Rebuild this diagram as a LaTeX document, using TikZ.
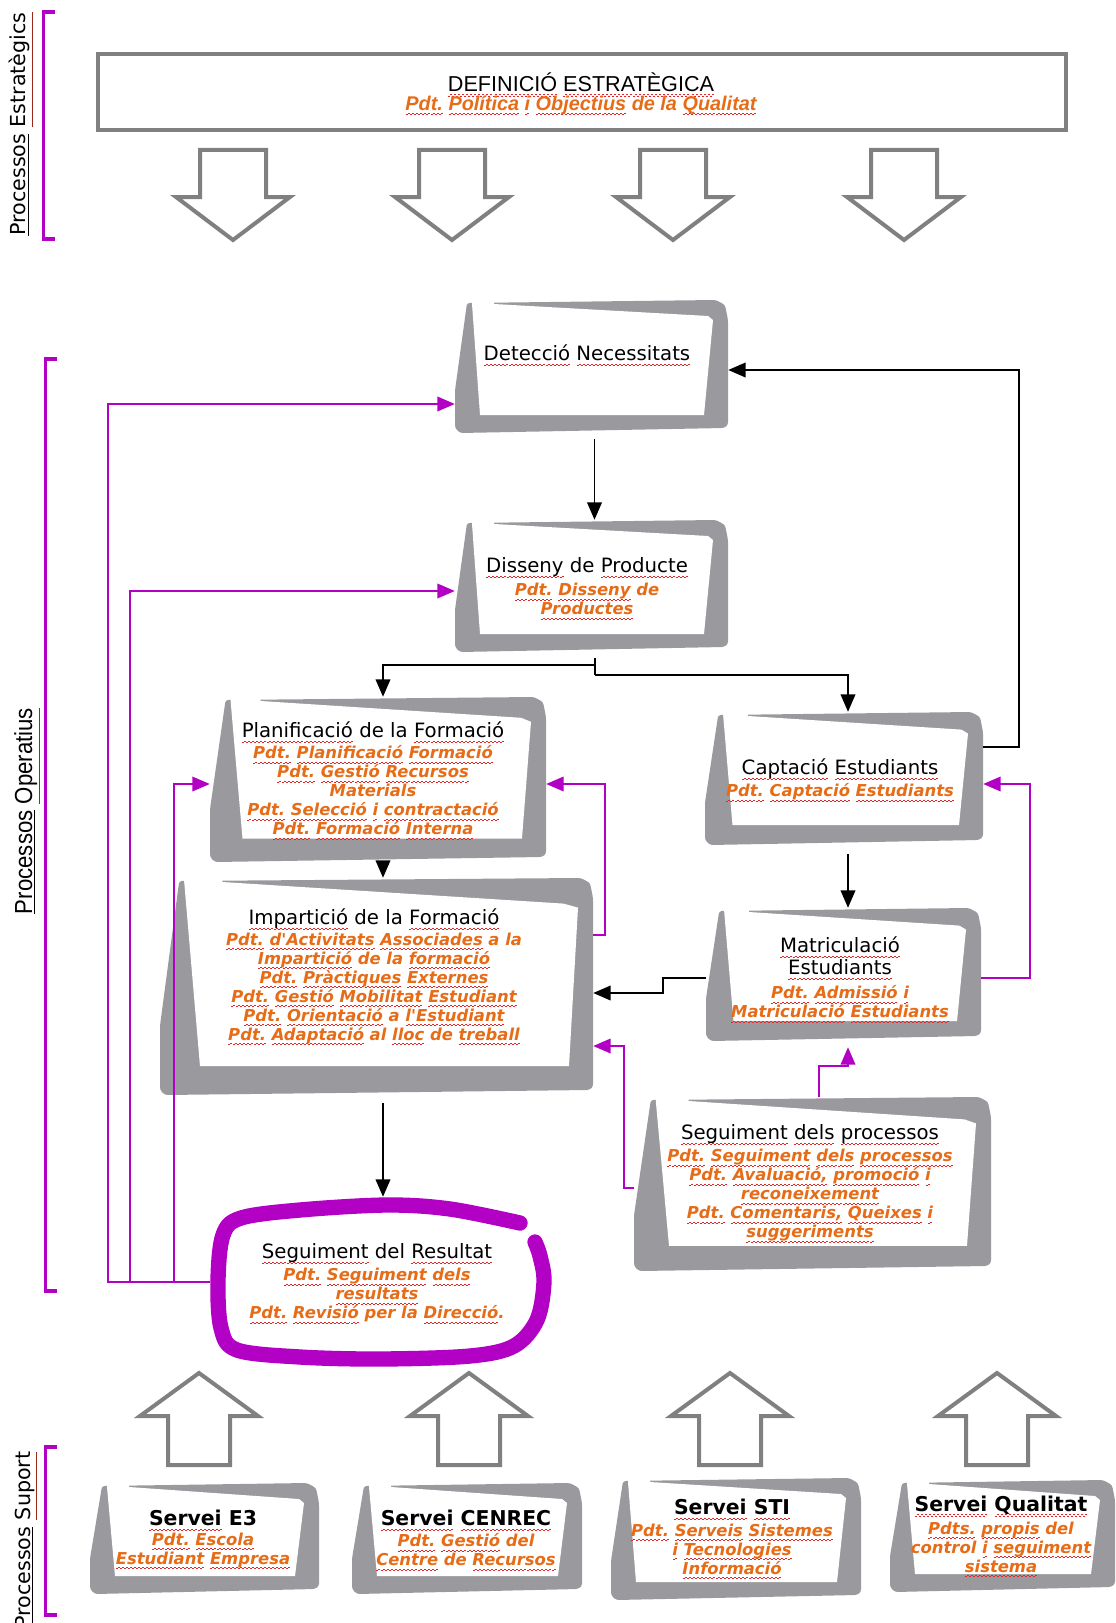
\documentclass[tikz,border=0pt]{standalone}
\usepackage{fontspec}
\setmainfont{DejaVu Sans}[BoldFont={DejaVu Sans Bold},ItalicFont={DejaVu Sans Oblique},BoldItalicFont={DejaVu Sans Bold Oblique}]
\newfontfamily\libfont{Liberation Sans}
\newfontfamily\libnarrow{Liberation Sans}[FakeStretch=0.9]
\usetikzlibrary{arrows.meta,fit,calc}

\definecolor{fgray}{RGB}{154,154,158}
\definecolor{agray}{RGB}{128,128,128}
\definecolor{purp}{RGB}{178,0,196}
\definecolor{orng}{RGB}{230,108,24}
\definecolor{ulred}{RGB}{150,40,30}
\definecolor{sqred}{RGB}{225,40,40}

\newcommand\ttlfont{\fontsize{14.8}{16.5}\selectfont}
\newcommand\orgfont{\fontsize{12.3}{14.25}\selectfont\bfseries\itshape}
\newcommand\srvfont{\fontsize{15.3}{18}\selectfont\bfseries}

% spell-check squiggle under a word, made of small rules
\newsavebox\sqbox
\newcommand\squnit{\hbox to 3pt{\rule[-3.7pt]{1.5pt}{0.5pt}\rule[-2.9pt]{1.5pt}{0.5pt}}}
\newcommand\w[1]{\sbox\sqbox{#1}\leavevmode\rlap{\smash{\textcolor{sqred}{\hbox to \wd\sqbox{\xleaders\squnit\hfil}}}}\usebox\sqbox}

% #1 name, #2 x0, #3 y0, #4 x1, #5 y1, #6 thickness scale
\newcommand\procshape[6]{%
  \pgfmathsetmacro\pW{#4-#2}%
  \pgfmathsetmacro\pH{#5-#3}%
  \def\psc{#6}%
  \begin{scope}[shift={(#2,#3)}]
    \fill[fgray, rounded corners=2pt] (12*\psc,3) -- (\pW-12,0) -- (\pW-3,5) -- (\pW,20) -- (\pW,\pH-8) -- (\pW-4,\pH-5) -- (5,\pH) -- (0,\pH-5) -- (0,0.68*\pH) -- cycle;
    \fill[white] (12*\psc+5,-3) -- (39*\psc,-3) -- (39*\psc,4) -- (\pW-16*\psc-4,16*\psc) -- (\pW-15,16*\psc+4) -- (\pW-24,\pH-18*\psc) -- (25*\psc,\pH-18*\psc) -- (12*\psc+5,4) -- cycle;
  \end{scope}
  \node[fit={(#2,#3) (#4,#5)}, inner sep=0pt] (#1) {};
}

\tikzset{
  ttl/.style={font=\ttlfont, inner sep=0pt, align=center},
  org/.style={font=\orgfont, text=orng, inner sep=0pt, align=center},
  srv/.style={font=\srvfont, inner sep=0pt},
  blk/.style={draw=black, line width=1.1pt, -{Triangle[width=11pt,length=13pt]}},
  pur/.style={draw=purp, line width=1pt, -{Triangle[width=11pt,length=13pt]}},
  bigarrow/.style={draw=agray, line width=3pt, fill=white, line join=miter},
  brk/.style={draw=purp, line width=2.4pt},
  side/.style={rotate=90, inner sep=0pt},
}

\begin{document}
\begin{tikzpicture}[x=0.75pt,y=-0.75pt]
\useasboundingbox (0,0) rectangle (1116,1623);

% ---------- side brackets and labels
\draw[brk] (55,12) -- (43.5,12) -- (43.5,239) -- (55,239);
\draw[brk] (57,359) -- (45.5,359) -- (45.5,1291) -- (57,1291);
\draw[brk] (57,1447) -- (45.5,1447) -- (45.5,1615) -- (57,1615);
\node[side, font=\fontsize{15.5}{18}\selectfont] (lab1) at (21,124) {\underline{Processos} \textcolor{ulred}{\underline{\textcolor{black}{Estratègics}}}};
\node[side, font=\libnarrow\fontsize{18.5}{20}\selectfont] (lab2) at (27,811) {\underline{Processos} \textcolor{ulred}{\underline{\textcolor{black}{Operatius}}}};
\node[side, font=\fontsize{15.5}{18}\selectfont] (lab3) at (26,1540) {\underline{Processos} \textcolor{ulred}{\underline{\textcolor{black}{Suport}}}};

% ---------- strategic definition
\node[draw=agray, line width=3pt, fit={(98,54) (1066,130)}, inner sep=0pt] (def) {};
\node[font=\libfont\fontsize{16.2}{19}\selectfont, inner sep=0pt] (def-t) at (581,82) {\w{DEFINICIÓ} \w{ESTRATÈGICA}};
\node[font=\libfont\fontsize{14.9}{18}\selectfont\bfseries\itshape, text=orng, inner sep=0pt] (def-o) at (581,105) {\w{Pdt.} \w{Política} \w{i} \w{Objectius} de la \w{Qualitat}};

\foreach \cx in {233,452,673,904}
  \draw[bigarrow] (\cx-33,150) -- (\cx+33,150) -- (\cx+33,197) -- (\cx+57,197) -- (\cx,240) -- (\cx-57,197) -- (\cx-33,197) -- cycle;

\foreach \cx in {199,469,730,997}
  \draw[bigarrow] (\cx-31,1465) -- (\cx+31,1465) -- (\cx+31,1416) -- (\cx+59,1416) -- (\cx,1373) -- (\cx-59,1416) -- (\cx-31,1416) -- cycle;

% ---------- process boxes
\procshape{det}{455}{300}{728}{433}{1}
\procshape{dis}{455}{520}{728}{652}{1}
\procshape{pla}{210}{697}{546}{862}{1.3}
\procshape{imp}{160}{878}{593}{1095}{1.6}
\procshape{cap}{705}{712}{983}{845}{1.1}
\procshape{mat}{706}{908}{981}{1041}{1.1}
\procshape{seg}{634}{1097}{991}{1271}{1.4}
\procshape{e3}{90}{1483}{319}{1594}{1}
\procshape{cen}{352}{1483}{582}{1594}{1}
\procshape{sti}{611}{1478}{861}{1600}{1}
\procshape{qua}{890}{1480}{1115}{1592}{1}

% ---------- result ring
\draw[purp, line width=11.5pt, line cap=round, line join=round]
  plot[smooth, tension=0.55] coordinates {(520,1223) (450,1209) (387,1205) (300,1210) (241,1218) (223,1235) (218,1280) (221,1328) (237,1350) (300,1357) (380,1359) (470,1356) (514,1346) (537,1320) (544,1282) (540,1256) (535,1242)};
\node[fit={(210,1197) (552,1367)}, inner sep=0pt] (sr) {};

% ---------- black connectors
\draw[blk] ($(det.south)+(3,6)$) -- ($(dis.north)+(3,0)$);
\coordinate (j1) at (595,665);
\coordinate (j2) at (595,675);
\draw[line width=1.1pt] ($(dis.south)+(3.5,6)$) -- (j2);
\draw[blk] (j1) -| ($(pla.north)+(5,0)$);
\draw[blk] (j2) -| ($(cap.north)+(4,0)$);
\draw[blk] ($(cap.south)+(4,9)$) -- ($(mat.north)+(4.5,0)$);
\coordinate (d1) at (663,978);
\coordinate (d2) at (663,993);
\draw[blk] (mat.west |- d1) -- (d1) -- (d2) -- (imp.east |- d2);
\draw[blk] ($(pla.south)+(5,0)$) -- ($(imp.north)+(6.5,0)$);
\draw[blk] ($(imp.south)+(6.5,8)$) -- ($(sr.north)+(2,0)$);
\coordinate (g1) at (1019,747);
\coordinate (g2) at (1019,370);
\draw[blk] (cap.east |- g1) -- (g1) -- (g2) -- (det.east |- g2);

% ---------- purple connectors
\coordinate (h1) at (108,1282);
\coordinate (h2) at (108,404);
\draw[pur] (sr.west |- h1) -- (h1) -- (h2) -- (det.west |- h2);
\coordinate (i1) at (130,1282);
\coordinate (i2) at (130,591);
\draw[pur] (i1) -- (i2) -- (dis.west |- i2);
\coordinate (k1) at (174,1282);
\coordinate (k2) at (174,784);
\draw[pur] (k1) -- (k2) -- (pla.west |- k2);
\coordinate (m1) at (605,935);
\coordinate (m2) at (605,784);
\draw[pur] (imp.east |- m1) -- (m1) -- (m2) -- (pla.east |- m2);
\coordinate (n1) at (624,1188);
\coordinate (n2) at (624,1046);
\draw[pur] (seg.west |- n1) -- (n1) -- (n2) -- (imp.east |- n2);
\coordinate (o1) at (819,1066);
\coordinate (o2) at (848,1066);
\draw[pur, shorten >=4.5pt] (seg.north -| o1) -- (o1) -- (o2) -- (mat.south -| o2);
\coordinate (p1) at (1030,978);
\coordinate (p2) at (1030,784);
\draw[pur] (mat.east |- p1) -- (p1) -- (p2) -- (cap.east |- p2);

% ---------- texts
\node[ttl] (det-t) at (587,353) {\w{Detecció} \w{Necessitats}};

\node[ttl] (dis-t) at (587,567) {\w{Disseny} de \w{Producte}};
\node[org] (dis-o) at (587,599) {\w{Pdt.} \w{Disseny} de\\\w{Productes}};

\node[ttl] (pla-t) at (373,730) {\w{Planificació} de la \w{Formació}};
\node[org] (pla-o) at (373,790) {\w{Pdt.} \w{Planificació} \w{Formació}\\\w{Pdt.} \w{Gestió} \w{Recursos}\\Materials\\\w{Pdt.} \w{Selecció} \w{i} \w{contractació}\\\w{Pdt.} \w{Formació} \w{Interna}};

\node[ttl] (imp-t) at (374,919) {\w{Impartició} de la \w{Formació}};
\node[org] (imp-o) at (374,988) {\w{Pdt.} \w{d\textquotesingle Activitats} \w{Associades} a la\\\w{Impartició} de la \w{formació}\\\w{Pdt.} \w{Pràctiques} \w{Externes}\\\w{Pdt.} \w{Gestió} \w{Mobilitat} \w{Estudiant}\\\w{Pdt.} \w{Orientació} a \w{l\textquotesingle Estudiant}\\\w{Pdt.} \w{Adaptació} al \w{lloc} de \w{treball}};

\node[ttl] (cap-t) at (840,769) {\w{Captació} \w{Estudiants}};
\node[org] (cap-o) at (840,792) {\w{Pdt.} \w{Captació} \w{Estudiants}};

\node[ttl] (mat-t) at (840,956) {\w{Matriculació}\\\w{Estudiants}};
\node[org] (mat-o) at (840,1002) {\w{Pdt.} \w{Admissió} \w{i}\\\w{Matriculació} \w{Estudiants}};

\node[ttl] (seg-t) at (810,1134) {\w{Seguiment} \w{dels} \w{processos}};
\node[org] (seg-o) at (810,1195) {\w{Pdt.} \w{Seguiment} \w{dels} \w{processos}\\\w{Pdt.} \w{Avaluació,} \w{promoció} \w{i}\\\w{reconeixement}\\\w{Pdt.} \w{Comentaris,} \w{Queixes} \w{i}\\\w{suggeriments}};

\node[ttl] (sr-t) at (377,1253) {\w{Seguiment} del \w{Resultat}};
\node[org] (sr-o) at (377,1295) {\w{Pdt.} \w{Seguiment} \w{dels}\\\w{resultats}\\\w{Pdt.} \w{Revisió} per la \w{Direcció}.};

\node[srv] (e3-t) at (203,1518) {\w{Servei} E3};
\node[org] (e3-o) at (203,1550) {\w{Pdt.} \w{Escola}\\\w{Estudiant} \w{Empresa}};

\node[srv] (cen-t) at (466,1518) {\w{Servei} \w{CENREC}};
\node[org] (cen-o) at (466,1550) {\w{Pdt.} \w{Gestió} del\\\w{Centre} de \w{Recursos}};

\node[srv] (sti-t) at (732,1507) {\w{Servei} \w{STI}};
\node[org] (sti-o) at (732,1549) {\w{Pdt.} \w{Serveis} \w{Sistemes}\\\w{i} \w{Tecnologies}\\\w{Informació}};

\node[srv] (qua-t) at (1001,1505) {\w{Servei} \w{Qualitat}};
\node[org] (qua-o) at (1001,1547) {\w{Pdts.} \w{propis} del\\control \w{i} \w{seguiment}\\\w{sistema}};
\end{tikzpicture}
\end{document}
